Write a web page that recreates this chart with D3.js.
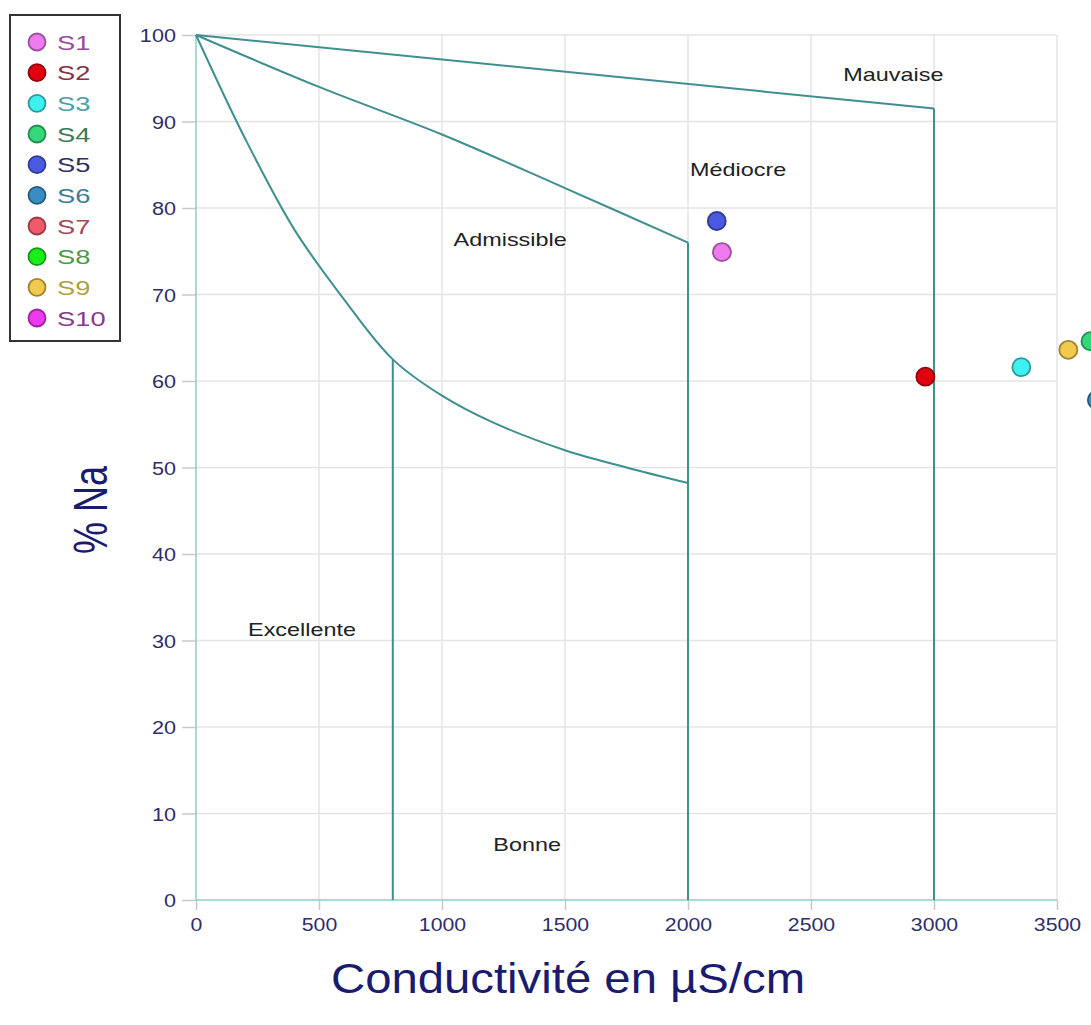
<!DOCTYPE html>
<html><head><meta charset="utf-8">
<script src="https://cdn.jsdelivr.net/npm/d3@7"></script>
<style>body{margin:0;background:#fff;}svg{display:block;font-family:Arial,"Liberation Sans",sans-serif;}</style>
</head><body>
<svg id="c" width="1091" height="1025"></svg>
<script>
// ---- data ----
const sampleNames = ["S1","S2","S3","S4","S5","S6","S7","S8","S9","S10"];
const markerColors = ["#ee7aee","#e00010","#3ff0f0","#34d878","#4a5ae0","#3a8cc4","#f05a6a","#18ee18","#f2c94c","#ee3aee"];
const labelColors = ["#9a4a9a","#8a3040","#4aa0a8","#3a7a58","#303060","#3a7a98","#a84858","#4a9a4a","#b0a040","#8a3a8a"];
// visible samples: conductivity (µS/cm), % Na
const pointSeries = ["S5","S1","S2","S3","S9","S4","S6"];
const pointCond   = [2117, 2138, 2965, 3355, 3546, 3636, 3662];
const pointNa     = [78.5, 74.9, 60.5, 61.6, 63.6, 64.6, 57.8];
// Wilcox diagram boundaries
const curveExcellent = [[0,100],[200,88],[400,77.5],[600,69.5],[800,62.5],[1000,58.3],[1200,55.3],[1500,52],[1750,50],[2000,48.2]];
const curveAdmissible = [[0,100],[500,94],[1000,88.5],[1500,82.3],[2000,76]];
const curveMediocre = [[0,100],[3000,91.5]];
const verticals = [[800,62.5],[2000,76],[3000,91.5]];
const zoneNames = ["Mauvaise","Médiocre","Admissible","Excellente","Bonne"];
const zoneX = [2835, 2204, 1277, 431, 1346];
const zoneY = [95.4, 84.4, 76.3, 31.2, 6.4];
const xTicks = [0,500,1000,1500,2000,2500,3000,3500];
const yTicks = [0,10,20,30,40,50,60,70,80,90,100];

const svg = d3.select("#c");
const x = d3.scaleLinear().domain([0,3500]).range([196,1057]);
const y = d3.scaleLinear().domain([0,100]).range([900,35]);
const FONT = "Arial, 'Liberation Sans', sans-serif";

// grid
svg.append("g").selectAll("line").data(xTicks.slice(1)).join("line")
  .attr("x1",d=>x(d)).attr("x2",d=>x(d)).attr("y1",y(0)).attr("y2",y(100))
  .attr("stroke","#e4e4e4").attr("stroke-width",1.5);
svg.append("g").selectAll("line").data(yTicks.slice(1)).join("line")
  .attr("x1",x(0)).attr("x2",x(3500)).attr("y1",d=>y(d)).attr("y2",d=>y(d))
  .attr("stroke","#e4e4e4").attr("stroke-width",1.5);

// axes
const xAxis = d3.axisBottom(x).tickValues(xTicks).tickFormat(d3.format("d")).tickSize(10).tickPadding(4);
const gx = svg.append("g").attr("transform",`translate(0,${y(0)})`).call(xAxis);
const yAxis = d3.axisLeft(y).tickValues(yTicks).tickFormat(d3.format("d")).tickSize(14).tickPadding(5);
const gy = svg.append("g").attr("transform",`translate(${x(0)},0)`).call(yAxis);
[gx,gy].forEach(g=>{
  g.select(".domain").remove();
  g.selectAll(".tick line").attr("stroke","#c8c8c8").attr("stroke-width",1.5);
  g.selectAll(".tick text").attr("fill","#2e2e6a").style("font-size","19px").style("font-family",FONT);
});
gx.selectAll(".tick text").attr("x",0).attr("y",13).attr("dy","0.95em").attr("transform","scale(1.12,1)");
gy.selectAll(".tick text").attr("dy","0.35em").attr("x",0)
  .attr("transform","translate(-20,0) scale(1.14,1)");

// axis lines
svg.append("line").attr("x1",x(0)).attr("x2",x(0)).attr("y1",y(0)).attr("y2",y(100)).attr("stroke","#8ccccc").attr("stroke-width",1.5);
svg.append("line").attr("x1",x(0)).attr("x2",x(3500)).attr("y1",y(0)).attr("y2",y(0)).attr("stroke","#8ccccc").attr("stroke-width",1.5);

// boundaries
const line = d3.line().x(d=>x(d[0])).y(d=>y(d[1])).curve(d3.curveCatmullRom.alpha(0.5));
const lc = "#3f8f8f";
[curveExcellent,curveAdmissible,curveMediocre].forEach(c=>{
  svg.append("path").attr("d",line(c)).attr("fill","none").attr("stroke",lc).attr("stroke-width",2);
});
svg.append("g").selectAll("line").data(verticals).join("line")
  .attr("x1",d=>x(d[0])).attr("x2",d=>x(d[0])).attr("y1",d=>y(d[1])).attr("y2",y(0))
  .attr("stroke",lc).attr("stroke-width",2);

// zone labels
svg.append("g").selectAll("text").data(zoneNames).join("text")
  .attr("transform",(d,i)=>`translate(${x(zoneX[i])},${y(zoneY[i])}) scale(1.3,1)`)
  .attr("dy","0.35em")
  .attr("text-anchor","middle").attr("fill","#222").style("font-size","18px").text(d=>d);

// points
svg.append("g").selectAll("circle").data(pointSeries).join("circle")
  .attr("cx",(d,i)=>x(pointCond[i])).attr("cy",(d,i)=>y(pointNa[i])).attr("r",9)
  .attr("fill",d=>markerColors[sampleNames.indexOf(d)])
  .attr("stroke",d=>d3.color(markerColors[sampleNames.indexOf(d)]).darker(1.2))
  .attr("stroke-width",1.8);

// axis titles
svg.append("text").attr("transform","translate(568,993) scale(1.1,1)").attr("text-anchor","middle")
  .attr("fill","#1a1a6e").style("font-size","43px").text("Conductivité en µS/cm");
svg.append("text").attr("transform","translate(107,510) scale(1.35,1) rotate(-90)").attr("text-anchor","middle")
  .attr("fill","#1a1a6e").style("font-size","36px").text("% Na");

// legend
const lg = svg.append("g");
lg.append("rect").attr("x",10).attr("y",15).attr("width",110).attr("height",326)
  .attr("fill","#fff").attr("stroke","#333").attr("stroke-width",2);
const ly = d3.scalePoint().domain(sampleNames).range([42,318]);
lg.selectAll("circle").data(sampleNames).join("circle")
  .attr("cx",37).attr("cy",d=>ly(d)).attr("r",8.5)
  .attr("fill",(d,i)=>markerColors[i]).attr("stroke",(d,i)=>d3.color(markerColors[i]).darker(1.2)).attr("stroke-width",1.8);
lg.selectAll("text").data(sampleNames).join("text")
  .attr("transform",d=>`translate(57,${ly(d)}) scale(1.3,1)`).attr("dy","0.36em")
  .attr("fill",(d,i)=>labelColors[i]).style("font-size","21px").text(d=>d);
</script>
</body></html>
